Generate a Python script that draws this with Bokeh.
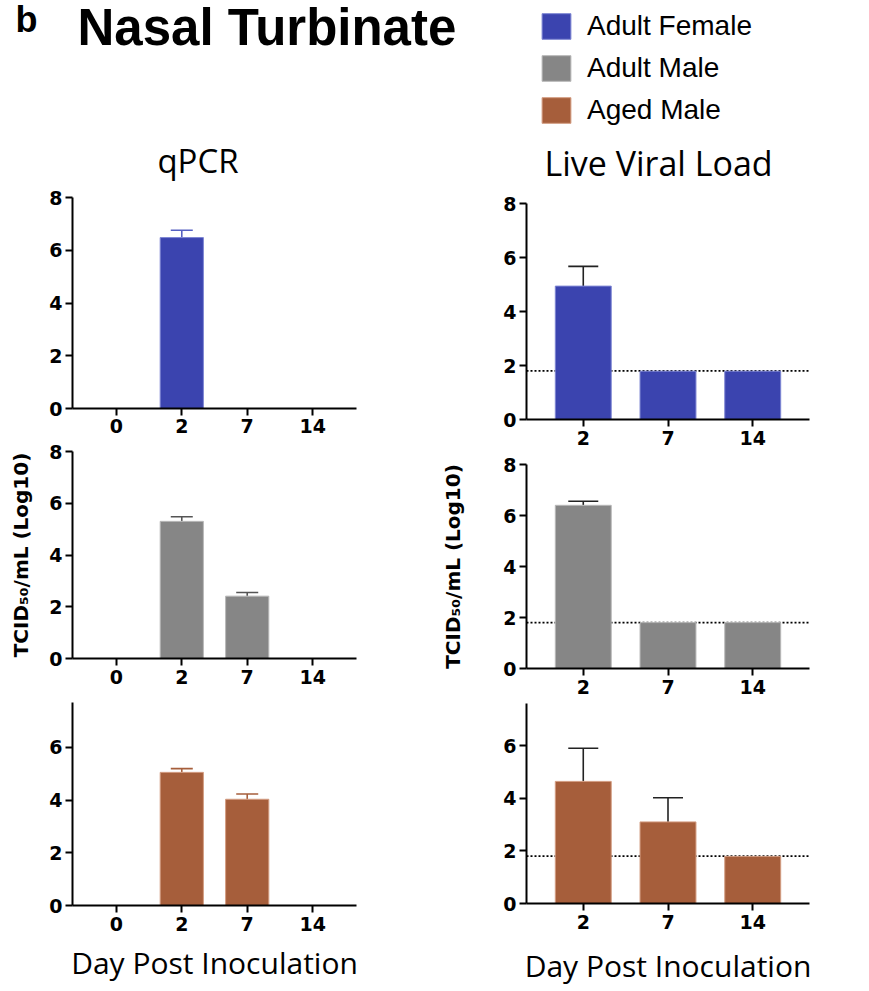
import numpy as np
from bokeh.plotting import figure
from bokeh.layouts import column, row
from bokeh.models import (ColumnDataSource, FactorRange, Range1d, FixedTicker, Whisker,
                          TeeHead, Span, Label, Legend, LegendItem)
from bokeh.embed import file_html
from bokeh.resources import INLINE
from bokeh.core.properties import value

# ---------------- data ----------------
days_qpcr = ["0", "2", "7", "14"]
days_live = ["2", "7", "14"]
groups = ["Adult Female", "Adult Male", "Aged Male"]
colors = ["#3b44af", "#868686", "#a65e3b"]
edge_colors = ["#7d85d3", "#b8b8b8", "#d39c81"]

qpcr_female = [None, 6.48, None, None]
qpcr_female_upper = [None, 6.76, None, None]
qpcr_adult_male = [None, 5.30, 2.41, None]
qpcr_adult_male_upper = [None, 5.48, 2.55, None]
qpcr_aged_male = [None, 5.05, 4.03, None]
qpcr_aged_male_upper = [None, 5.19, 4.23, None]

live_female = [4.94, 1.79, 1.79]
live_female_upper = [5.67, None, None]
live_adult_male = [6.40, 1.80, 1.80]
live_adult_male_upper = [6.56, None, None]
live_aged_male = [4.64, 3.10, 1.79]
live_aged_male_upper = [5.90, 4.02, None]

lod = 1.8
y_ticks = [0, 2, 4, 6, 8]

HEAD_FONT = "Liberation Sans"
TICK_FONT = "DejaVu Sans"
TITLE_FONT = "Open Sans"


def panel(days, means, upper, color, edge, err_color, cap, width, height,
          left, right, top, bottom, ymax=8, ylabel=None, ylabel_standoff=13,
          xlabel=None, xlabel_standoff=8, lod_line=False, lod_offset=6, xstandoff=4):
    n = len(days)
    pad = 0.34 / n  # percent padding -> 0.17 category units each side
    p = figure(width=width, height=height,
               x_range=FactorRange(factors=days, range_padding=pad,
                                   range_padding_units="percent"),
               y_range=Range1d(0, ymax),
               output_backend="svg", toolbar_location=None,
               min_border_left=left, min_border_right=right,
               min_border_top=top, min_border_bottom=bottom,
               outline_line_color=None, background_fill_color="white",
               border_fill_color="white")
    p.grid.visible = False

    m = np.array(means, dtype=float)
    u = np.array(upper, dtype=float)
    src = ColumnDataSource(data=dict(day=days, mean=m))
    p.vbar(x="day", top="mean", width=0.66, source=src,
           fill_color=color, line_color=edge, line_width=1)

    keep = ~np.isnan(u)
    wsrc = ColumnDataSource(data=dict(day=[d for d, k in zip(days, keep) if k],
                                      mean=m[keep], upper=u[keep]))
    w = Whisker(source=wsrc, base="day", lower="mean", upper="upper",
                line_color=err_color, line_width=1.6, lower_head=None,
                upper_head=TeeHead(size=cap, line_color=err_color, line_width=1.6),
                level="underlay")
    p.add_layout(w)

    if lod_line:
        p.add_layout(Span(location=lod, dimension="width", line_color="black",
                          line_dash="2 2", line_width=1.6, level="underlay"))
        p.add_layout(Label(x=n + n * pad / 2, y=lod, x_offset=lod_offset, text="LOD",
                           text_baseline="middle", text_font=TICK_FONT,
                           text_font_style="bold", text_font_size="17px",
                           text_color="black"))

    for ax in (p.xaxis[0], p.yaxis[0]):
        ax.axis_line_width = 2
        ax.axis_line_color = "black"
        ax.major_tick_line_width = 2
        ax.major_tick_line_color = "black"
        ax.major_tick_out = 7
        ax.major_tick_in = 0
        ax.minor_tick_out = 0
        ax.minor_tick_in = 0
        ax.major_label_text_font = TICK_FONT
        ax.major_label_text_font_style = "bold"
        ax.major_label_text_font_size = "19px"
        ax.major_label_text_color = "black"
    p.xaxis[0].major_label_standoff = xstandoff
    p.yaxis[0].ticker = FixedTicker(ticks=y_ticks, minor_ticks=[])
    p.yaxis[0].major_label_standoff = 3

    if ylabel:
        p.yaxis[0].axis_label = ylabel
        p.yaxis[0].axis_label_text_font = TICK_FONT
        p.yaxis[0].axis_label_text_font_style = "bold"
        p.yaxis[0].axis_label_text_font_size = "20px"
        p.yaxis[0].axis_label_text_color = "black"
        p.yaxis[0].axis_label_standoff = ylabel_standoff
    if xlabel:
        p.xaxis[0].axis_label = xlabel
        p.xaxis[0].axis_label_text_font = TITLE_FONT
        p.xaxis[0].axis_label_text_font_style = "normal"
        p.xaxis[0].axis_label_text_font_size = "30px"
        p.xaxis[0].axis_label_text_color = "black"
        p.xaxis[0].axis_label_standoff = xlabel_standoff
    return p


ylab = "TCID\u2085\u2080/mL (Log10)"
xlab = "Day Post Inoculation"

# ---------------- header ----------------
HW, HH = 869, 188
header = figure(width=HW, height=HH, x_range=Range1d(0, HW), y_range=Range1d(HH, 0),
                output_backend="svg", toolbar_location=None, min_border=0,
                x_axis_location=None, y_axis_location=None, outline_line_color=None)
header.grid.visible = False
header.text(x=[15], y=[19], text=["b"], text_font=value(HEAD_FONT), text_font_style="bold",
            text_font_size="36px", text_baseline="alphabetic", text_color="black")
header.text(x=[77], y=[27], text=["Nasal Turbinate"], text_font=value(HEAD_FONT),
            text_font_style="bold", text_font_size="51px", text_baseline="alphabetic",
            text_color="black")
header.text(x=[197.5], y=[160], text=["qPCR"], text_font=value(TITLE_FONT),
            text_font_size="33px", text_baseline="alphabetic", text_align="center",
            text_color="black")
header.text(x=[658], y=[162.5], text=["Live Viral Load"], text_font=value(TITLE_FONT),
            text_font_size="34px", text_baseline="alphabetic", text_align="center",
            text_color="black")

# legend proxies (kept outside the visible header range)
items = []
for g, c, e in zip(groups, colors, edge_colors):
    r = header.rect(x=[-500], y=[-500], width=1, height=1, fill_color=c, line_color=e,
                    line_width=1)
    items.append(LegendItem(label=g, renderers=[r]))
legend = Legend(items=items, location=(538, 62), glyph_width=36, glyph_height=32,
                label_height=32, spacing=10, padding=0, margin=0,
                border_line_color=None, background_fill_alpha=0,
                label_text_font=HEAD_FONT, label_text_font_size="28px",
                label_standoff=13, label_text_color="black")
header.add_layout(legend)

# ---------------- panels ----------------
LW, RW = 438, 431
p1 = panel(days_qpcr, qpcr_female, qpcr_female_upper, colors[0], edge_colors[0], "#5661c2", 22,
           LW, 253, 70, 77, 9, 33, xstandoff=3)
p3 = panel(days_qpcr, qpcr_adult_male, qpcr_adult_male_upper, colors[1], edge_colors[1], "#555555", 22,
           LW, 251, 72, 69, 10, 34, ylabel=ylab, ylabel_standoff=13)
p5 = panel(days_qpcr, qpcr_aged_male, qpcr_aged_male_upper, colors[2], edge_colors[2], "#a65e3b", 22,
           LW, 299, 66, 82, 10, 86, ymax=7.7, xlabel=xlab, xlabel_standoff=8)

p2 = panel(days_live, live_female, live_female_upper, colors[0], edge_colors[0], "#222222", 30,
           RW, 265, 82, 52, 15, 34, lod_line=True, lod_offset=6)
p4 = panel(days_live, live_adult_male, live_adult_male_upper, colors[1], edge_colors[1], "#222222", 30,
           RW, 249, 85, 60, 11, 34, ylabel=ylab, ylabel_standoff=35, lod_line=True, lod_offset=6)
p6 = panel(days_live, live_aged_male, live_aged_male_upper, colors[2], edge_colors[2], "#222222", 30,
           RW, 289, 85, 52, 1, 88, ymax=7.6, xlabel=xlab, xlabel_standoff=13,
           lod_line=True, lod_offset=6)

layout = column(header, row(column(p1, p3, p5), column(p2, p4, p6)))

with open("out.html", "w") as f:
    f.write(file_html(layout, INLINE, title="Nasal Turbinate"))
